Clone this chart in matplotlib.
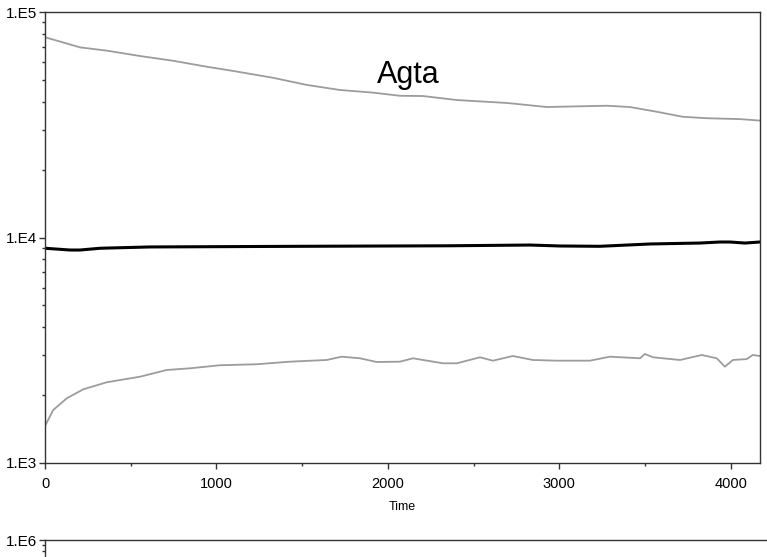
import numpy as np
import matplotlib.pyplot as plt
from matplotlib.ticker import FixedLocator, FuncFormatter, LogLocator, MultipleLocator, NullFormatter

plt.rcParams['font.family'] = ['Liberation Sans', 'DejaVu Sans']

# upper grey curve
upper_t = [0, 204, 360, 554, 746, 943, 1096, 1329, 1526, 1720, 1913, 2070, 2204,
           2402, 2694, 2927, 3277, 3411, 3569, 3720, 3860, 4053, 4169]
upper_v = [77300, 69700, 67400, 63800, 60800, 57200, 54800, 51100, 47500, 45100,
           43900, 42500, 42400, 40700, 39500, 37900, 38400, 37900, 36100, 34300,
           33800, 33500, 33000]

# middle black curve
mid_t = [0, 146, 204, 321, 612, 904, 1487, 2362, 2828, 3003, 3236, 3528, 3819,
         3936, 3994, 4082, 4169]
mid_v = [8960, 8800, 8800, 8960, 9080, 9100, 9140, 9190, 9260, 9170, 9140, 9360,
         9450, 9550, 9550, 9450, 9550]

# lower grey curve
low_t = [0, 48, 127, 223, 360, 554, 710, 846, 1020, 1234, 1429, 1643, 1730, 1837,
         1934, 2070, 2146, 2321, 2402, 2537, 2612, 2729, 2845, 2986, 3178, 3295,
         3470, 3499, 3546, 3703, 3831, 3918, 3965, 4012, 4093, 4128, 4169]
low_v = [1459, 1718, 1936, 2122, 2280, 2414, 2585, 2630, 2713, 2741, 2814, 2863,
         2961, 2913, 2805, 2814, 2913, 2768, 2768, 2943, 2843, 2982, 2863, 2843,
         2843, 2961, 2913, 3044, 2943, 2863, 3013, 2913, 2674, 2863, 2890, 3013, 2982]

y_ticks = [1e3, 1e4, 1e5]
x_ticks = [0, 1000, 2000, 3000, 4000]


def sci_label(v, pos):
    return "1.E%d" % round(np.log10(v))


def style_axis(ax):
    for s in ax.spines.values():
        s.set_color('#333333')
        s.set_linewidth(1.0)
    ax.tick_params(which='major', direction='out', length=4, width=1,
                   colors='#333333', labelcolor='black', pad=1.5)
    ax.tick_params(axis='y', labelsize=11)
    ax.tick_params(axis='x', labelsize=10.5, pad=6)
    ax.tick_params(which='minor', direction='out', length=2, width=1, colors='#333333')


fig = plt.figure(figsize=(7.67, 5.57), dpi=100)
ax = fig.add_axes([45 / 767, 1 - 463 / 557, 715 / 767, 451 / 557])

ax.plot(upper_t, upper_v, color='#9c9c9c', lw=1.3)
ax.plot(low_t, low_v, color='#9c9c9c', lw=1.3)
ax.plot(mid_t, mid_v, color='black', lw=2.2)

ax.set_yscale('log')
ax.set_ylim(1e3, 1e5)
ax.set_xlim(0, 4170)
ax.yaxis.set_major_locator(FixedLocator(y_ticks))
ax.yaxis.set_major_formatter(FuncFormatter(sci_label))
ax.yaxis.set_minor_locator(LogLocator(base=10, subs=np.arange(2, 10)))
ax.yaxis.set_minor_formatter(NullFormatter())
ax.xaxis.set_major_locator(FixedLocator(x_ticks))
ax.xaxis.set_minor_locator(MultipleLocator(500))
style_axis(ax)
ax.set_xlabel('Time', fontsize=9, labelpad=7)
ax.text(0.508, 0.86, 'Agta', transform=ax.transAxes, ha='center', va='center',
        fontsize=22)

# second panel, cut off by the figure edge
ax2 = fig.add_axes([45 / 767, -0.6, 0.98, 0.6 + 1 - 540 / 557])
ax2.set_yscale('log')
ax2.set_ylim(1e3, 1e6)
ax2.set_xlim(0, 4170)
ax2.yaxis.set_major_locator(FixedLocator([1e6]))
ax2.yaxis.set_major_formatter(FuncFormatter(sci_label))
ax2.yaxis.set_minor_locator(LogLocator(base=10, subs=np.arange(2, 10)))
ax2.yaxis.set_minor_formatter(NullFormatter())
ax2.set_xticks([])
ax2.spines['right'].set_visible(False)
style_axis(ax2)

fig.savefig('out.png', dpi=100)
